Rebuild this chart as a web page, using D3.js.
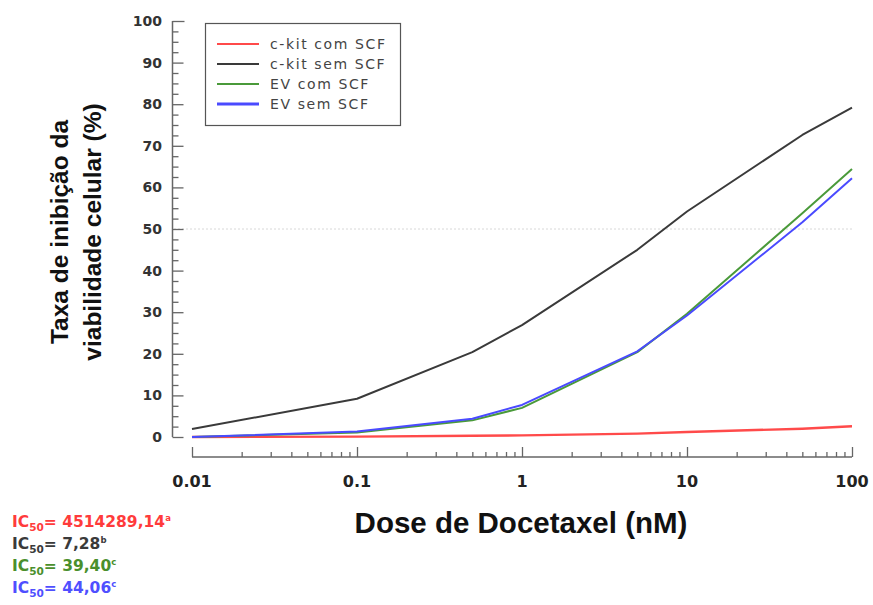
<!DOCTYPE html>
<html>
<head>
<meta charset="utf-8">
<script src="https://cdn.jsdelivr.net/npm/d3@7"></script>
<style>
  html, body { margin: 0; padding: 0; background: #fff; }
  svg { display: block; }
</style>
</head>
<body>
<svg id="chart" width="873" height="605"></svg>
<script>
// Docetaxel doses (nM) and inhibition rates (%) for each cell line
const doses = [0.01, 0.1, 0.5, 1, 5, 10, 50, 100];
const ckitComSCF = [0, 0.1, 0.3, 0.4, 0.8, 1.2, 2.0, 2.6];
const ckitSemSCF = [1.9, 9.2, 20.4, 26.9, 45.0, 54.2, 72.6, 79.2];
const evComSCF   = [0, 1.1, 4.0, 7.0, 20.4, 29.6, 53.8, 64.4];
const evSemSCF   = [0, 1.3, 4.4, 7.7, 20.6, 29.2, 51.6, 62.2];

const seriesNames = ["c-kit com SCF", "c-kit sem SCF", "EV com SCF", "EV sem SCF"];
const seriesColors = ["#ff4a4a", "#3a3a3a", "#4a9a3a", "#4a4aff"];
const seriesValues = [ckitComSCF, ckitSemSCF, evComSCF, evSemSCF];

const yTicks = [0, 10, 20, 30, 40, 50, 60, 70, 80, 90, 100];
const xTicks = [0.01, 0.1, 1, 10, 100];
const xTickLabels = ["0.01", "0.1", "1", "10", "100"];

// IC50 annotations
const icValues = ["4514289,14", "7,28", "39,40", "44,06"];
const icLetters = ["a", "b", "c", "c"];
const icColors = ["#ff3b3b", "#3a3a3a", "#4a8f2c", "#4f4fff"];

const svg = d3.select("#chart");
const axisColor = "#666";

const x = d3.scaleLog().domain([0.01, 100]).range([192, 852]);
const y = d3.scaleLinear().domain([0, 100]).range([437, 21]);

// 50% reference line
svg.append("line")
  .attr("x1", 174).attr("x2", x(100))
  .attr("y1", y(50)).attr("y2", y(50))
  .attr("stroke", "#d8d8d8").attr("stroke-width", 1)
  .attr("stroke-dasharray", "2,2");

// Y axis with inward ticks
const yAxisX = 172.5;
const yAxis = d3.axisRight(y)
  .tickValues(d3.range(0, 100.01, 2.5))
  .tickSize(6)
  .tickFormat("");
const yg = svg.append("g").attr("transform", `translate(${yAxisX},0)`).call(yAxis);
yg.select(".domain").attr("d", `M0,${y(100)}V${y(0)}`).attr("stroke", axisColor).attr("stroke-width", 1.5);
yg.selectAll(".tick line")
  .attr("stroke", axisColor).attr("stroke-width", 1.3)
  .attr("x2", d => (d % 10 === 0 ? 11 : 6));
yg.selectAll(".tick").filter(d => d === 0 || d === 100).select("line").attr("x2", d => (d === 100 ? 12 : 11));

svg.append("g").selectAll("text")
  .data(yTicks).join("text")
  .attr("x", 162).attr("y", d => y(d))
  .attr("dy", "0.36em")
  .attr("text-anchor", "end")
  .attr("font-family", "'DejaVu Sans', Verdana, sans-serif")
  .attr("font-weight", "bold").attr("font-size", 14)
  .attr("fill", "#333")
  .text(d => d);

// X axis (log) below the plot, ticks pointing up
const xAxisY = 457;
const minorX = [];
for (let p = -2; p < 2; p++) {
  for (let m = 1; m < 10; m++) minorX.push(m * Math.pow(10, p));
}
minorX.push(100);
const xAxis = d3.axisTop(x).tickValues(minorX).tickSize(5).tickFormat("");
const xg = svg.append("g").attr("transform", `translate(0,${xAxisY})`).call(xAxis);
xg.select(".domain").attr("d", `M${x(0.01)},0H${x(100)}`).attr("stroke", axisColor).attr("stroke-width", 1.5);
xg.selectAll(".tick line")
  .attr("stroke", axisColor).attr("stroke-width", 1.3)
  .attr("y2", d => (xTicks.some(t => Math.abs(t - d) / t < 1e-9) ? -10 : -5));

svg.append("g").selectAll("text")
  .data(xTicks).join("text")
  .attr("x", d => x(d)).attr("y", 487)
  .attr("text-anchor", "middle")
  .attr("font-family", "'DejaVu Sans', Verdana, sans-serif")
  .attr("font-weight", "bold").attr("font-size", 16)
  .attr("fill", "#222")
  .text((d, i) => xTickLabels[i]);

// Axis titles
svg.append("text")
  .attr("x", 521).attr("y", 533)
  .attr("text-anchor", "middle")
  .attr("font-family", "'Liberation Sans', Arial, sans-serif")
  .attr("font-weight", "bold").attr("font-size", 29.5)
  .attr("fill", "#111")
  .text("Dose de Docetaxel (nM)");

const yTitle = svg.append("text")
  .attr("transform", "translate(68,232) rotate(-90)")
  .attr("text-anchor", "middle")
  .attr("font-family", "'Liberation Sans', Arial, sans-serif")
  .attr("font-weight", "bold").attr("font-size", 24.5)
  .attr("fill", "#111");
yTitle.append("tspan").attr("x", 0).attr("y", 0).text("Taxa de inibição da");
yTitle.append("tspan").attr("x", 0).attr("y", 33).text("viabilidade celular (%)");

// Curves
const line = d3.line()
  .x((d, i) => x(doses[i]))
  .y(d => y(d));

svg.append("g").selectAll("path")
  .data(seriesValues).join("path")
  .attr("d", d => line(d))
  .attr("fill", "none")
  .attr("stroke", (d, i) => seriesColors[i])
  .attr("stroke-width", (d, i) => (i === 0 ? 2.4 : 2))
  .attr("stroke-linejoin", "round");

// Legend
const legend = svg.append("g");
legend.append("rect")
  .attr("x", 205.5).attr("y", 23.5).attr("width", 195).attr("height", 102)
  .attr("fill", "#fff").attr("stroke", "#555").attr("stroke-width", 1.2);
const rows = legend.selectAll("g.row")
  .data(seriesNames).join("g")
  .attr("transform", (d, i) => `translate(0,${44 + i * 20})`);
rows.append("line")
  .attr("x1", 217).attr("x2", 259)
  .attr("stroke", (d, i) => seriesColors[i])
  .attr("stroke-width", (d, i) => (i === 3 ? 3 : 2));
rows.append("text")
  .attr("x", 270).attr("dy", "0.36em")
  .attr("font-family", "'DejaVu Sans', Verdana, sans-serif")
  .attr("font-size", 14)
  .attr("letter-spacing", 1.6)
  .attr("fill", "#444")
  .text(d => d);

// IC50 annotations
const ic = svg.append("g");
icValues.forEach((v, i) => {
  const t = ic.append("text")
    .attr("x", 12).attr("y", 527 + i * 22)
    .attr("font-family", "'DejaVu Sans', Verdana, sans-serif")
    .attr("font-weight", "bold").attr("font-size", 15.5)
    .attr("fill", icColors[i]);
  t.append("tspan").text("IC");
  t.append("tspan").attr("font-size", 10.5).attr("dy", 4).text("50");
  t.append("tspan").attr("dy", -4).text("= " + v);
  t.append("tspan").attr("font-size", 8.5).attr("dy", -6).text(icLetters[i]);
});
</script>
</body>
</html>
